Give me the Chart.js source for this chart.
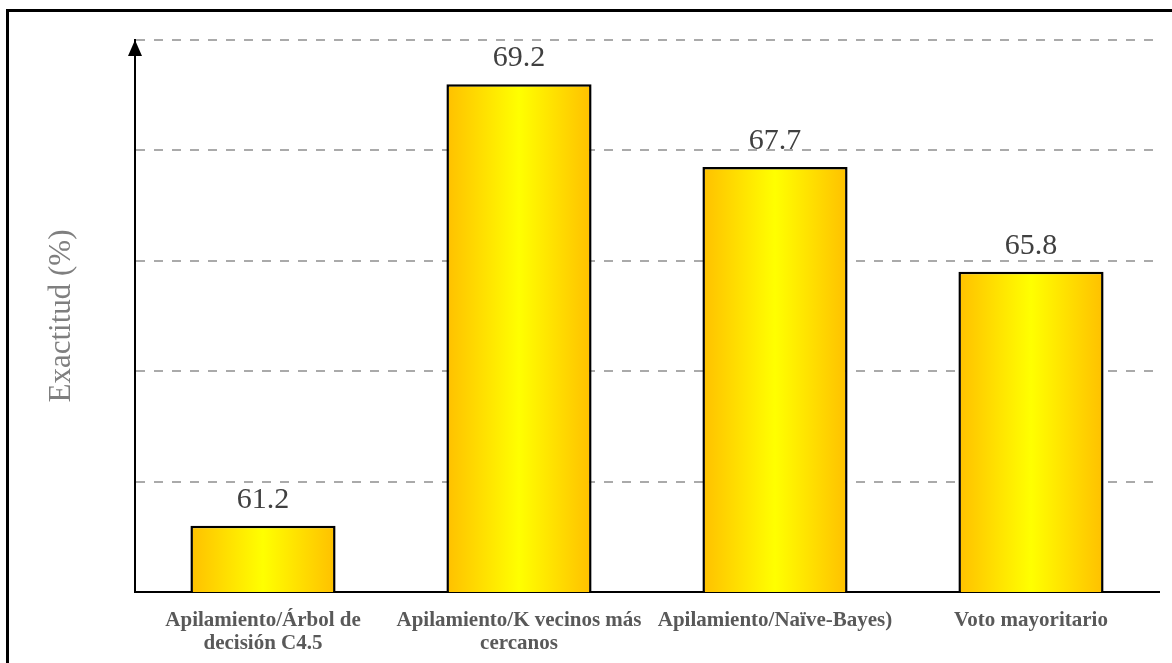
<!DOCTYPE html>
<html>
<head>
<meta charset="utf-8">
<script src="https://cdn.jsdelivr.net/npm/chart.js@4.4.1/dist/chart.umd.min.js"></script>
<style>
  html, body { margin: 0; padding: 0; background: #fff; }
  #wrap { width: 1172px; height: 663px; }
</style>
</head>
<body>
<div id="wrap"><canvas id="chart" width="1172" height="663"></canvas></div>
<script>
// data
const categories = [
   ["Apilamiento/Árbol de", "decisión C4.5"],
   ["Apilamiento/K vecinos más", "cercanos"],
   "Apilamiento/Naïve-Bayes)",
   "Voto mayoritario"
];
const accuracy = [61.2, 69.2, 67.7, 65.8];
const yMin = 60;
const yMax = 70;
const yStep = 2;

const BAR_PCT = 0.567;
const serif = "'Liberation Serif', 'Times New Roman', serif";

// horizontal orange -> yellow -> orange fill for each bar
const barGradient = (ctx) => {
   const chart = ctx.chart;
   const xs = chart.scales.x;
   if (!xs || ctx.dataIndex === undefined) return "#FFC000";
   const cx = xs.getPixelForValue(ctx.dataIndex);
   const half = (xs.width / categories.length) * BAR_PCT / 2;
   if (!isFinite(cx) || !isFinite(half) || half <= 0) return "#FFC000";
   const g = chart.ctx.createLinearGradient(cx - half, 0, cx + half, 0);
   g.addColorStop(0, "#FFC000");
   g.addColorStop(0.5, "#FFFF00");
   g.addColorStop(1, "#FFC000");
   return g;
};

const framePlugin = {
   id: "frame",
   beforeDraw(chart) {
      const c = chart.ctx;
      c.save();
      c.strokeStyle = "#000";
      c.lineWidth = 3;
      c.strokeRect(7.5, 10.5, 1300, 800);
      c.restore();
   }
};

const arrowPlugin = {
   id: "arrow",
   afterDraw(chart) {
      const c = chart.ctx;
      const x = chart.scales.y.right;
      const top = chart.chartArea.top;
      c.save();
      c.fillStyle = "#000";
      c.beginPath();
      c.moveTo(x, top);
      c.lineTo(x - 7, top + 16);
      c.lineTo(x + 7, top + 16);
      c.closePath();
      c.fill();
      c.restore();
   }
};

const valueLabels = {
   id: "valueLabels",
   afterDatasetsDraw(chart) {
      const c = chart.ctx;
      const meta = chart.getDatasetMeta(0);
      c.save();
      c.font = "30px " + serif;
      c.fillStyle = "#404040";
      c.textAlign = "center";
      c.textBaseline = "alphabetic";
      meta.data.forEach((bar, i) => {
         c.fillText(accuracy[i].toFixed(1), bar.x, bar.y - 18);
      });
      c.restore();
   }
};

new Chart(document.getElementById("chart"), {
   type: "bar",
   data: {
      labels: categories,
      datasets: [
         {
            data: accuracy,
            backgroundColor: barGradient,
            borderColor: "#000",
            borderWidth: 2.5,
            borderSkipped: false,
            barPercentage: BAR_PCT,
            categoryPercentage: 1
         }
      ]
   },
   options: {
      responsive: false,
      animation: false,
      layout: { padding: { left: 0, right: 13, top: 40, bottom: 0 } },
      plugins: {
         legend: { display: false },
         tooltip: { enabled: false }
      },
      scales: {
         x: {
            grid: { display: false, drawTicks: false },
            border: { display: true, color: "#000", width: 2 },
            ticks: {
               autoSkip: false,
               maxRotation: 0,
               minRotation: 0,
               padding: 17,
               color: "#595959",
               font: { family: serif, size: 21, weight: "bold", lineHeight: 1.1 }
            },
            afterFit(scale) { scale.height = 71; }
         },
         y: {
            min: yMin,
            max: yMax,
            grid: {
               color: "#aaaaaa",
               lineWidth: 2,
               drawTicks: false
            },
            border: { display: true, color: "#000", width: 2, dash: [9, 9] },
            ticks: { display: false, stepSize: yStep },
            title: {
               display: true,
               text: "Exactitud (%)",
               color: "#7f7f7f",
               font: { family: serif, size: 31, weight: "normal" },
               padding: { top: 43, bottom: 0 }
            },
            afterFit(scale) { scale.width = 135; }
         }
      }
   },
   plugins: [framePlugin, arrowPlugin, valueLabels]
});
</script>
</body>
</html>
